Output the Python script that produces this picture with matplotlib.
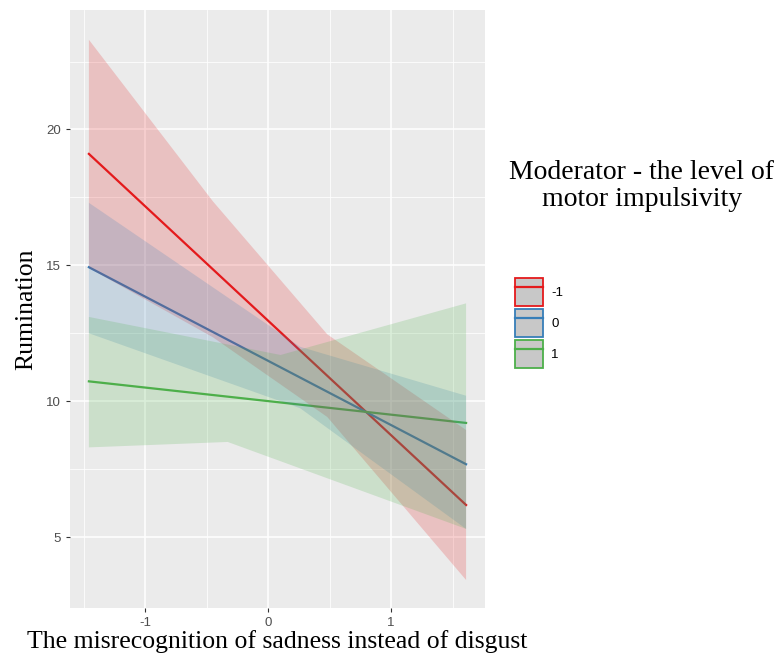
import numpy as np
import matplotlib; matplotlib.use("Agg")
import matplotlib.pyplot as plt
from matplotlib.patches import Patch
from matplotlib.lines import Line2D

plt.rcParams.update({"font.family": "Liberation Sans", "font.size": 8})

# simple slopes of rumination on sadness misrecognition, by moderator level
levels = ["-1", "0", "1"]
colors = ["#E41A1C", "#377EB8", "#4DAF4A"]
x_ends = [-1.46, 1.61]
fit_m1 = [19.1, 6.18]
fit_0 = [14.93, 7.68]
fit_p1 = [10.73, 9.2]

# confidence band edges (x knots, values)
hi_x_m1, hi_m1 = [-1.46, -0.45, 0.48, 1.61], [23.3, 17.35, 12.46, 8.94]
lo_x_m1, lo_m1 = [-1.46, -0.45, 0.48, 1.61], [14.9, 12.35, 9.42, 3.42]
hi_x_0, hi_0 = [-1.46, 0.26, 1.61], [17.3, 12.0, 10.2]
lo_x_0, lo_0 = [-1.46, 0.26, 1.61], [12.5, 9.74, 5.3]
hi_x_p1, hi_p1 = [-1.46, 0.1, 1.61], [13.1, 11.7, 13.6]
lo_x_p1, lo_p1 = [-1.46, -0.33, 1.61], [8.3, 8.5, 5.3]

x_ticks = [-1, 0, 1]
y_ticks = [5, 10, 15, 20]

fig = plt.figure(figsize=(7.81, 6.58), dpi=100)
ax = fig.add_axes([0.0896, 0.076, 0.5314, 0.909])
ax.set_facecolor("#EBEBEB")

# lines first, ribbons laid over them
for fit, col in zip([fit_m1, fit_0, fit_p1], colors):
    ax.plot(x_ends, fit, color=col, lw=1.6, zorder=2)
bands = [(hi_x_m1, hi_m1, lo_x_m1, lo_m1), (hi_x_0, hi_0, lo_x_0, lo_0),
         (hi_x_p1, hi_p1, lo_x_p1, lo_p1)]
for (hx, hy, lx, ly), col in zip(bands, colors):
    ax.fill(np.r_[hx, lx[::-1]], np.r_[hy, ly[::-1]], color=col, alpha=0.2, lw=0, zorder=3)

ax.set_xlim(-1.614, 1.764)
ax.set_ylim(2.39, 24.4)
ax.set_xticks(x_ticks)
ax.set_xticklabels([str(t) for t in x_ticks])
ax.set_yticks(y_ticks)
ax.set_xticks([-1.5, -0.5, 0.5, 1.5], minor=True)
ax.set_yticks([7.5, 12.5, 17.5, 22.5], minor=True)
ax.grid(which="major", color="white", lw=1.1, zorder=1)
ax.grid(which="minor", color="white", lw=0.55, zorder=1)
ax.set_axisbelow(True)
for s in ax.spines.values():
    s.set_visible(False)
ax.tick_params(which="major", length=3, color="#333333", labelcolor="#4D4D4D", labelsize=9.5)
ax.tick_params(which="minor", length=0)

ax.set_xlabel("The misrecognition of sadness instead of disgust", family="Liberation Serif",
              fontsize=18.5, labelpad=1)
ax.set_ylabel("Rumination", family="Liberation Serif", fontsize=18.5, labelpad=6)

fig.text(0.822, 0.717, "Moderator - the level of\nmotor impulsivity", family="Liberation Serif",
         fontsize=20, ha="center", va="center", linespacing=1.1)

handles = []
for col in colors:
    handles.append((Patch(facecolor="#C8C8C8", edgecolor=col, lw=1.3),
                    Line2D([], [], color=col, lw=1.6)))
ax.legend(handles, levels, loc="upper left", bbox_to_anchor=(0.651, 0.587),
          bbox_transform=fig.transFigure, frameon=False, handlelength=2.15, handleheight=2.9,
          labelspacing=0.22, handletextpad=0.6, fontsize=9.5, borderpad=0)

fig.savefig("out.png", dpi=100)
